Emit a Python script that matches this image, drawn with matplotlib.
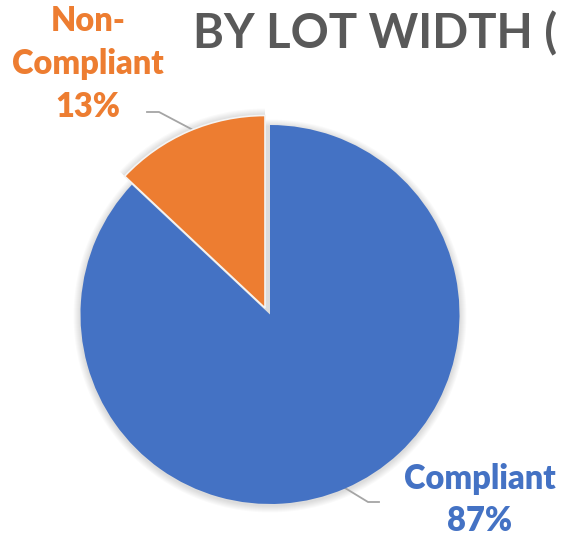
import matplotlib
matplotlib.use("Agg")
import matplotlib.pyplot as plt
from matplotlib.patches import Circle, Wedge

categories = ["Compliant", "Non-Compliant"]
values = [87, 13]
colors = ["#4472C4", "#ED7D31"]
title = "BY LOT WIDTH ("

W, H = 563, 538
fig = plt.figure(figsize=(W / 100, H / 100), dpi=100)
ax = fig.add_axes([0, 0, 1, 1])

cx, cy, r = 270, H - 314.5, 189.5
offset = (-5, 6.5)

wedges, _ = ax.pie(values, colors=colors, startangle=90, counterclock=False,
                   center=(cx, cy), radius=r,
                   wedgeprops=dict(edgecolor="none", linewidth=0, zorder=3),
                   frame=True)
# pull out the non-compliant slice
wedges[1].set_center((cx + offset[0], cy + offset[1]))
wedges[1].set_radius(r + 3)
wedges[1].set_edgecolor("#F4F4F4")
wedges[1].set_linewidth(1.2)

# soft glow / shadow around the pie
for i in range(1, 8):
    ax.add_patch(Circle((cx, cy - 1.5), r + i, facecolor="black",
                        edgecolor="none", alpha=0.018, zorder=1))
    w = wedges[1]
    ax.add_patch(Wedge(w.center, w.r + i, w.theta1, w.theta2,
                       facecolor="black", edgecolor="none", alpha=0.018,
                       zorder=1))

ax.set_xlim(0, W)
ax.set_ylim(0, H)
ax.set_aspect("equal")
ax.axis("off")

font = "Lato"
ax.text(193, H - 34, title, fontsize=34, fontweight="bold", color="#595959",
        family=font, ha="left", va="center", clip_on=False)

ax.text(88, H - 64, "Non-\nCompliant\n" + f"{values[1]}%", fontsize=23.5,
        fontweight="heavy", color=colors[1], family=font, ha="center",
        va="center", linespacing=1.42)
ax.text(480, H - 500, "Compliant\n" + f"{values[0]}%", fontsize=23.5,
        fontweight="heavy", color=colors[0], family=font, ha="center",
        va="center", linespacing=1.38)

ax.plot([147, 159, 195], [H - 112, H - 112, H - 131], color="#A5A5A5", lw=1.3)
ax.plot([345, 368, 379], [H - 488, H - 502, H - 502], color="#A5A5A5", lw=1.3)

fig.savefig("out.png", dpi=100)
